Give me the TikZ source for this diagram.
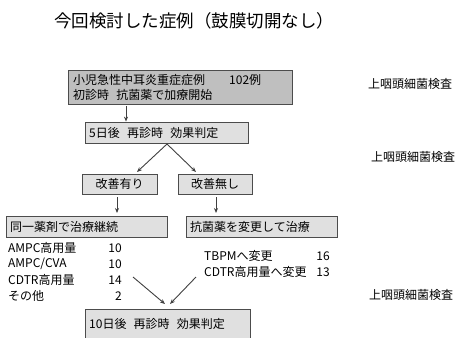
\documentclass[tikz,border=0pt]{standalone}
\usepackage{fontspec}
\setmainfont{Noto Sans CJK JP}
\usetikzlibrary{arrows.meta}
\begin{document}
\begin{tikzpicture}[x=1pt,y=-1pt,
  box/.style={draw=black!70,line width=0.8pt,fill=black!12},
  darkbox/.style={draw=black!70,line width=0.8pt,fill=black!25},
  lbl/.style={inner sep=0pt,anchor=west,font=\fontsize{12}{14}\selectfont},
  txt/.style={inner sep=0pt,font=\fontsize{12}{14}\selectfont},
  arr/.style={draw=black!75,line width=0.9pt,-{Stealth[length=5pt,width=4pt]}}]
\useasboundingbox (0,0) rectangle (457,337);
\clip (0,0) rectangle (457,337);
% title
\node[inner sep=0pt,font=\fontsize{17.5}{20}\selectfont] (title) at (194,21) {今回検討した症例（鼓膜切開なし）};
% box 1
\draw[darkbox] (68,70) rectangle (292,104);
\node[txt,anchor=west] (b1a) at (73,80) {小児急性中耳炎重症症例\hspace{2em}102例};
\node[txt,anchor=west] (b1b) at (73,95) {初診時\hspace{0.6em}抗菌薬で加療開始};
\coordinate (b1) at (126,104);
% box 2
\node[box,minimum width=163pt,minimum height=21pt,inner sep=0pt] (b2) at (166.5,132.5) {};
\node[txt,anchor=west] at (89,132.5) {5日後\hspace{0.6em}再診時\hspace{0.6em}効果判定};
\draw[arr] (126,106) -- (b2.north -| b1);
% improvement boxes
\node[box,minimum width=75pt,minimum height=20pt,inner sep=0pt,txt] (yes) at (119.5,184) {改善有り};
\node[box,minimum width=74pt,minimum height=20pt,inner sep=0pt,txt] (no) at (215,184) {改善無し};
\coordinate (apex) at (167,144);
\draw[arr] (apex) -- (137,172);
\draw[arr] (apex) -- (196,172);
% treatment boxes
\node[box,minimum width=161pt,minimum height=21pt,inner sep=0pt] (same) at (86.5,226.5) {};
\node[txt,anchor=west] at (10,226.5) {同一薬剤で治療継続};
\node[box,minimum width=151pt,minimum height=21pt,inner sep=0pt] (chg) at (261.5,226.5) {};
\node[txt,anchor=west] at (190,226.5) {抗菌薬を変更して治療};
\draw[arr] (117,197) -- (117,213);
\draw[arr] (216,197) -- (216,213);
% lists
\node[lbl] (l1) at (8,248) {AMPC高用量};
\node[lbl] (l2) at (8,264) {AMPC/CVA};
\node[lbl] (l3) at (8,280) {CDTR高用量};
\node[lbl] (l4) at (8,296) {その他};
\node[txt,anchor=east] at (122,248) {10};
\node[txt,anchor=east] at (122,264) {10};
\node[txt,anchor=east] at (122,280) {14};
\node[txt,anchor=east] at (122,296) {2};
\node[lbl] (r1) at (204,256) {TBPMへ変更};
\node[lbl] (r2) at (204,272) {CDTR高用量へ変更};
\node[txt,anchor=east] at (330,256) {16};
\node[txt,anchor=east] at (330,272) {13};
% bottom box
\node[box,minimum width=165pt,minimum height=30pt,inner sep=0pt] (b3) at (167.5,324) {};
\node[txt,anchor=west] at (89,324) {10日後\hspace{0.6em}再診時\hspace{0.6em}効果判定};
\draw[arr] (133,277) -- (165,304);
\draw[arr] (196,277) -- (170,304);
% right labels
\node[lbl] (s1) at (368,84) {上咽頭細菌検査};
\node[lbl] (s2) at (371,157) {上咽頭細菌検査};
\node[lbl] (s3) at (369,295) {上咽頭細菌検査};
\end{tikzpicture}
\end{document}
